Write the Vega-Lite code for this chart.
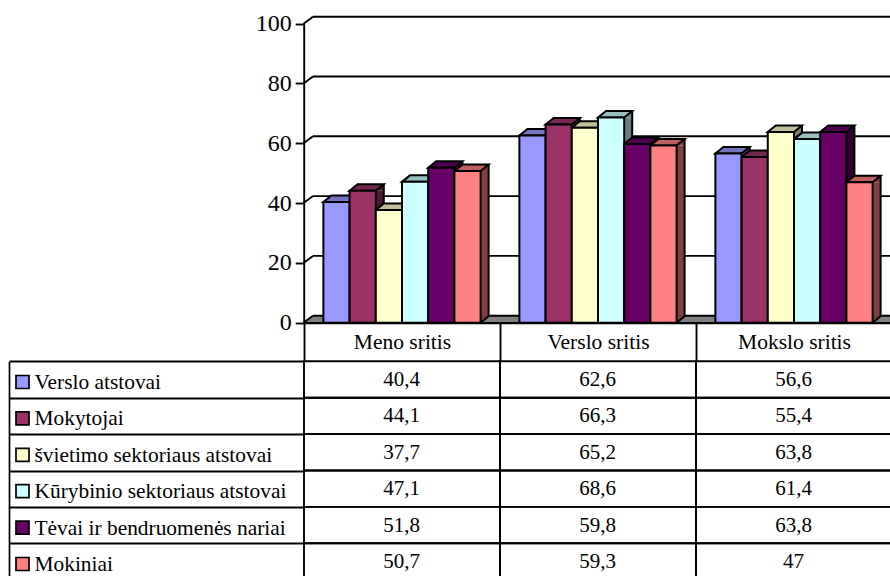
{
"$schema":"https://vega.github.io/schema/vega-lite/v6.json",
"width":890,"height":576,"autosize":"none","padding":0,"background":"white",
"config":{"view":{"stroke":null},"locale":{"number":{"decimal":",","thousands":".","grouping":[3],"currency":["","€"]}}},
"datasets":{
"rows":[
{"cat":"Meno sritis","series":"Verslo atstovai","value":40.4},
{"cat":"Meno sritis","series":"Mokytojai","value":44.1},
{"cat":"Meno sritis","series":"švietimo sektoriaus atstovai","value":37.7},
{"cat":"Meno sritis","series":"Kūrybinio sektoriaus atstovai","value":47.1},
{"cat":"Meno sritis","series":"Tėvai ir bendruomenės nariai","value":51.8},
{"cat":"Meno sritis","series":"Mokiniai","value":50.7},
{"cat":"Verslo sritis","series":"Verslo atstovai","value":62.6},
{"cat":"Verslo sritis","series":"Mokytojai","value":66.3},
{"cat":"Verslo sritis","series":"švietimo sektoriaus atstovai","value":65.2},
{"cat":"Verslo sritis","series":"Kūrybinio sektoriaus atstovai","value":68.6},
{"cat":"Verslo sritis","series":"Tėvai ir bendruomenės nariai","value":59.8},
{"cat":"Verslo sritis","series":"Mokiniai","value":59.3},
{"cat":"Mokslo sritis","series":"Verslo atstovai","value":56.6},
{"cat":"Mokslo sritis","series":"Mokytojai","value":55.4},
{"cat":"Mokslo sritis","series":"švietimo sektoriaus atstovai","value":63.8},
{"cat":"Mokslo sritis","series":"Kūrybinio sektoriaus atstovai","value":61.4},
{"cat":"Mokslo sritis","series":"Tėvai ir bendruomenės nariai","value":63.8},
{"cat":"Mokslo sritis","series":"Mokiniai","value":47}
],
"series":[{"series":"Verslo atstovai"},{"series":"Mokytojai"},{"series":"švietimo sektoriaus atstovai"},{"series":"Kūrybinio sektoriaus atstovai"},{"series":"Tėvai ir bendruomenės nariai"},{"series":"Mokiniai"}],
"ticks":[{"tick":0},{"tick":20},{"tick":40},{"tick":60},{"tick":80},{"tick":100}],
"floor":[{"tick":0}]
},
"resolve":{"scale":{"x":"independent","y":"independent","xOffset":"independent","fill":"independent","stroke":"independent"}},
"layer":[
{"data":{"name":"floor"},"mark":{"type":"rule","stroke":"#808080","strokeWidth":7,"yOffset":-3.5},
 "encoding":{"x":{"datum":0,"type":"quantitative","scale":{"domain":[0,1],"range":[313,900]},"axis":null},"x2":{"datum":1},
 "y":{"field":"tick","type":"quantitative","scale":{"domain":[0,100],"range":[322.7,23.7]},"axis":null}}},
{"data":{"name":"floor"},"mark":{"type":"point","filled":true,"fill":"#808080","opacity":1,"strokeWidth":0,"size":4,"shape":"M-9.5,0L0,-7L0,0Z"},
 "encoding":{"x":{"datum":0,"type":"quantitative","scale":{"domain":[0,1],"range":[313,900]},"axis":null},
 "y":{"field":"tick","type":"quantitative","scale":{"domain":[0,100],"range":[322.7,23.7]},"axis":null}}},
{"data":{"name":"ticks"},"mark":{"type":"rule","stroke":"black","strokeWidth":1.9,"yOffset":-7},
 "encoding":{"x":{"datum":0,"type":"quantitative","scale":{"domain":[0,1],"range":[313,900]},"axis":null},"x2":{"datum":1},
 "y":{"field":"tick","type":"quantitative","scale":{"domain":[0,100],"range":[322.7,23.7]},
  "axis":{"orient":"left","offset":-303.7,"title":null,"values":[0,20,40,60,80,100],"grid":false,"domainColor":"black","domainWidth":1.9,"tickColor":"black","tickWidth":1.9,"tickSize":8.5,"labelPadding":4,"labelFont":"Liberation Serif","labelFontSize":24,"labelColor":"black"}}}},
{"data":{"name":"ticks"},"mark":{"type":"point","filled":false,"fill":null,"stroke":"black","opacity":1,"strokeWidth":1.9,"size":4,"shape":"M-9.5,0L0,-7"},
 "encoding":{"x":{"datum":0,"type":"quantitative","scale":{"domain":[0,1],"range":[313,900]},"axis":null},
 "y":{"field":"tick","type":"quantitative","scale":{"domain":[0,100],"range":[322.7,23.7]},"axis":null}}},

{"data":{"name":"rows"},"mark":{"type":"rule","strokeWidth":8,"y2Offset":-6.5},
 "encoding":{"x":{"field":"cat","type":"nominal","sort":null,"scale":{"type":"band","domain":["Meno sritis","Verslo sritis","Mokslo sritis"],"range":[304,892],"paddingInner":0,"paddingOuter":0},"axis":null},
 "xOffset":{"field":"series","type":"nominal","sort":null,"scale":{"type":"band","domain":["Verslo atstovai","Mokytojai","švietimo sektoriaus atstovai","Kūrybinio sektoriaus atstovai","Tėvai ir bendruomenės nariai","Mokiniai"],"range":[17.1,213.1],"paddingInner":0,"paddingOuter":0.74}},
 "y":{"field":"value","type":"quantitative","scale":{"domain":[0,100],"range":[322.7,23.7]},"axis":null},"y2":{"datum":0},
 "stroke":{"field":"series","type":"nominal","legend":null,"scale":{"domain":["Verslo atstovai","Mokytojai","švietimo sektoriaus atstovai","Kūrybinio sektoriaus atstovai","Tėvai ir bendruomenės nariai","Mokiniai"],"range":["#4D4D80","#4D1A33","#808066","#668080","#330033","#804040"]}}}},
{"data":{"name":"rows"},"mark":{"type":"point","filled":true,"opacity":1,"strokeWidth":0,"size":4,"shape":"M13.1,0L21.1,-6.5L21.1,0Z"},
 "encoding":{"x":{"field":"cat","type":"nominal","sort":null,"scale":{"type":"band","domain":["Meno sritis","Verslo sritis","Mokslo sritis"],"range":[304,892],"paddingInner":0,"paddingOuter":0},"axis":null},
 "xOffset":{"field":"series","type":"nominal","sort":null,"scale":{"type":"band","domain":["Verslo atstovai","Mokytojai","švietimo sektoriaus atstovai","Kūrybinio sektoriaus atstovai","Tėvai ir bendruomenės nariai","Mokiniai"],"paddingInner":0,"paddingOuter":0.74}},
 "y":{"field":"value","type":"quantitative","scale":{"domain":[0,100],"range":[322.7,23.7]},"axis":null},
 "fill":{"field":"series","type":"nominal","legend":null,"scale":{"domain":["Verslo atstovai","Mokytojai","švietimo sektoriaus atstovai","Kūrybinio sektoriaus atstovai","Tėvai ir bendruomenės nariai","Mokiniai"],"range":["#4D4D80","#4D1A33","#808066","#668080","#330033","#804040"]}}}},
{"data":{"name":"rows"},"mark":{"type":"point","filled":true,"opacity":1,"strokeWidth":0,"size":4,"shape":"M13.1,0L21.1,-6.5L13.1,-6.5Z"},
 "encoding":{"x":{"field":"cat","type":"nominal","sort":null,"scale":{"type":"band","domain":["Meno sritis","Verslo sritis","Mokslo sritis"],"range":[304,892],"paddingInner":0,"paddingOuter":0},"axis":null},
 "xOffset":{"field":"series","type":"nominal","sort":null,"scale":{"type":"band","domain":["Verslo atstovai","Mokytojai","švietimo sektoriaus atstovai","Kūrybinio sektoriaus atstovai","Tėvai ir bendruomenės nariai","Mokiniai"],"paddingInner":0,"paddingOuter":0.74}},
 "y":{"datum":0,"type":"quantitative","scale":{"domain":[0,100],"range":[322.7,23.7]},"axis":null},
 "fill":{"field":"series","type":"nominal","legend":null,"scale":{"domain":["Verslo atstovai","Mokytojai","švietimo sektoriaus atstovai","Kūrybinio sektoriaus atstovai","Tėvai ir bendruomenės nariai","Mokiniai"],"range":["#4D4D80","#4D1A33","#808066","#668080","#330033","#804040"]}}}},
{"data":{"name":"rows"},"mark":{"type":"rule","stroke":"black","strokeWidth":2,"yOffset":-6.5,"y2Offset":-6.5},
 "encoding":{"x":{"field":"cat","type":"nominal","sort":null,"scale":{"type":"band","domain":["Meno sritis","Verslo sritis","Mokslo sritis"],"range":[304,892],"paddingInner":0,"paddingOuter":0},"axis":null},
 "xOffset":{"field":"series","type":"nominal","sort":null,"scale":{"type":"band","domain":["Verslo atstovai","Mokytojai","švietimo sektoriaus atstovai","Kūrybinio sektoriaus atstovai","Tėvai ir bendruomenės nariai","Mokiniai"],"range":[21.1,217.1],"paddingInner":0,"paddingOuter":0.74}},
 "y":{"field":"value","type":"quantitative","scale":{"domain":[0,100],"range":[322.7,23.7]},"axis":null},"y2":{"datum":0}}},
{"data":{"name":"rows"},"mark":{"type":"point","filled":false,"fill":null,"stroke":"black","opacity":1,"strokeWidth":2,"size":4,"shape":"M13.1,0L21.1,-6.5"},
 "encoding":{"x":{"field":"cat","type":"nominal","sort":null,"scale":{"type":"band","domain":["Meno sritis","Verslo sritis","Mokslo sritis"],"range":[304,892],"paddingInner":0,"paddingOuter":0},"axis":null},
 "xOffset":{"field":"series","type":"nominal","sort":null,"scale":{"type":"band","domain":["Verslo atstovai","Mokytojai","švietimo sektoriaus atstovai","Kūrybinio sektoriaus atstovai","Tėvai ir bendruomenės nariai","Mokiniai"],"paddingInner":0,"paddingOuter":0.74}},
 "y":{"datum":0,"type":"quantitative","scale":{"domain":[0,100],"range":[322.7,23.7]},"axis":null}}},
{"data":{"name":"rows"},"mark":{"type":"point","filled":true,"opacity":1,"stroke":"black","strokeWidth":2,"size":4,"shape":"M-13.1,0L-5.1,-6.5L21.1,-6.5L13.1,0Z"},
 "encoding":{"x":{"field":"cat","type":"nominal","sort":null,"scale":{"type":"band","domain":["Meno sritis","Verslo sritis","Mokslo sritis"],"range":[304,892],"paddingInner":0,"paddingOuter":0},"axis":null},
 "xOffset":{"field":"series","type":"nominal","sort":null,"scale":{"type":"band","domain":["Verslo atstovai","Mokytojai","švietimo sektoriaus atstovai","Kūrybinio sektoriaus atstovai","Tėvai ir bendruomenės nariai","Mokiniai"],"paddingInner":0,"paddingOuter":0.74}},
 "y":{"field":"value","type":"quantitative","scale":{"domain":[0,100],"range":[322.7,23.7]},"axis":null},
 "fill":{"field":"series","type":"nominal","legend":null,"scale":{"domain":["Verslo atstovai","Mokytojai","švietimo sektoriaus atstovai","Kūrybinio sektoriaus atstovai","Tėvai ir bendruomenės nariai","Mokiniai"],"range":["#7373BF","#732650","#BFBF99","#99BFBF","#4D004D","#BF6060"]}}}},
{"data":{"name":"rows"},"mark":{"type":"bar","stroke":"black","strokeWidth":2,"opacity":1},
 "encoding":{"x":{"field":"cat","type":"nominal","sort":null,"scale":{"type":"band","domain":["Meno sritis","Verslo sritis","Mokslo sritis"],"range":[304,892],"paddingInner":0,"paddingOuter":0},"axis":null},
 "xOffset":{"field":"series","type":"nominal","sort":null,"scale":{"type":"band","domain":["Verslo atstovai","Mokytojai","švietimo sektoriaus atstovai","Kūrybinio sektoriaus atstovai","Tėvai ir bendruomenės nariai","Mokiniai"],"paddingInner":0,"paddingOuter":0.74}},
 "y":{"field":"value","type":"quantitative","scale":{"domain":[0,100],"range":[322.7,23.7]},"axis":null},"y2":{"datum":0},
 "fill":{"field":"series","type":"nominal","legend":null,"scale":{"domain":["Verslo atstovai","Mokytojai","švietimo sektoriaus atstovai","Kūrybinio sektoriaus atstovai","Tėvai ir bendruomenės nariai","Mokiniai"],"range":["#9999FF","#993366","#FFFFCC","#CCFFFF","#660066","#FF8080"]}}}},

{"data":{"name":"rows"},"mark":{"type":"rect","fill":null,"stroke":"black","strokeWidth":1.9},
 "encoding":{"x":{"field":"cat","type":"nominal","sort":null,"scale":{"type":"band","domain":["Meno sritis","Verslo sritis","Mokslo sritis"],"range":[304,892],"paddingInner":0,"paddingOuter":0},
  "axis":{"orient":"bottom","offset":-253.3,"title":null,"labelAngle":0,"domainColor":"black","domainWidth":2.2,"tickColor":"black","tickWidth":1.9,"tickSize":38.6,"tickBand":"extent","labelBaseline":"alphabetic","labelPadding":-12.5,"labelFont":"Liberation Serif","labelFontSize":21.5,"labelColor":"black"}},
 "y":{"field":"series","type":"nominal","sort":null,"scale":{"type":"band","domain":["Verslo atstovai","Mokytojai","švietimo sektoriaus atstovai","Kūrybinio sektoriaus atstovai","Tėvai ir bendruomenės nariai","Mokiniai"],"range":[361.3,579.7],"paddingInner":0,"paddingOuter":0},"axis":null}}},
{"data":{"name":"rows"},"mark":{"type":"text","font":"Liberation Serif","fontSize":21,"fill":"black","yOffset":0.5,"xOffset":-0.5},
 "encoding":{"x":{"field":"cat","type":"nominal","sort":null,"scale":{"type":"band","domain":["Meno sritis","Verslo sritis","Mokslo sritis"],"range":[304,892],"paddingInner":0,"paddingOuter":0},"axis":null},
 "y":{"field":"series","type":"nominal","sort":null,"scale":{"type":"band","domain":["Verslo atstovai","Mokytojai","švietimo sektoriaus atstovai","Kūrybinio sektoriaus atstovai","Tėvai ir bendruomenės nariai","Mokiniai"],"range":[361.3,579.7],"paddingInner":0,"paddingOuter":0},"axis":null},
 "text":{"field":"value","type":"quantitative","format":".1~f"}}},
{"data":{"name":"series"},"mark":{"type":"point","shape":"square","filled":true,"opacity":1,"stroke":"black","strokeWidth":1.7,"size":169,"yOffset":2.5},
 "encoding":{"x":{"datum":0,"type":"quantitative","scale":{"domain":[0,1],"range":[22.5,23.5]},"axis":null},
 "y":{"field":"series","type":"nominal","sort":null,"scale":{"type":"band","domain":["Verslo atstovai","Mokytojai","švietimo sektoriaus atstovai","Kūrybinio sektoriaus atstovai","Tėvai ir bendruomenės nariai","Mokiniai"],"range":[361.3,579.7],"paddingInner":0,"paddingOuter":0},
  "axis":{"orient":"left","offset":-9,"title":null,"domainColor":"black","domainWidth":1.7,"tickColor":"black","tickWidth":1.9,"tickSize":-295,"tickBand":"extent","labelAlign":"left","labelBaseline":"alphabetic","labelPadding":270,"labelOffset":9,"labelLimit":400,"labelFont":"Liberation Serif","labelFontSize":21.4,"labelColor":"black"}},
 "fill":{"field":"series","type":"nominal","legend":null,"scale":{"domain":["Verslo atstovai","Mokytojai","švietimo sektoriaus atstovai","Kūrybinio sektoriaus atstovai","Tėvai ir bendruomenės nariai","Mokiniai"],"range":["#9999FF","#993366","#FFFFCC","#CCFFFF","#660066","#FF8080"]}}}}
]
}
